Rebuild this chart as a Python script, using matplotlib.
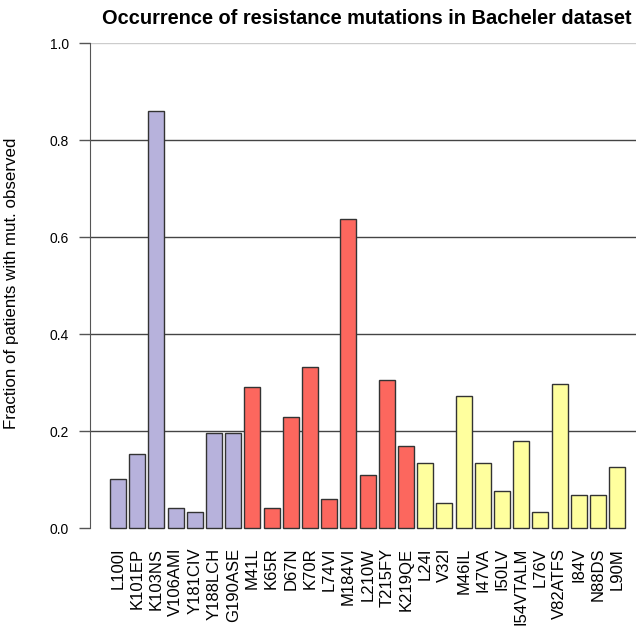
import matplotlib
matplotlib.use("Agg")
import matplotlib.pyplot as plt

plt.rcParams['font.family'] = ['Liberation Sans', 'DejaVu Sans']

# NNRTI / NRTI / PI mutation groups
nnrti_labels = ['L100I', 'K101EP', 'K103NS', 'V106AMI', 'Y181CIV', 'Y188LCH', 'G190ASE']
nnrti_values = [0.102, 0.153, 0.860, 0.042, 0.033, 0.196, 0.196]

nrti_labels = ['M41L', 'K65R', 'D67N', 'K70R', 'L74VI', 'M184VI', 'L210W', 'T215FY', 'K219QE']
nrti_values = [0.290, 0.042, 0.229, 0.332, 0.060, 0.638, 0.110, 0.305, 0.170]

pi_labels = ['L24I', 'V32I', 'M46IL', 'I47VA', 'I50LV', 'I54VTALM', 'L76V',
             'V82ATFS', 'I84V', 'N88DS', 'L90M']
pi_values = [0.135, 0.051, 0.273, 0.135, 0.076, 0.179, 0.033, 0.298, 0.068, 0.068, 0.126]

groups = [(nnrti_labels, nnrti_values, '#B7B2DC'),
          (nrti_labels, nrti_values, '#FC675E'),
          (pi_labels, pi_values, '#FFFF9E')]

fig = plt.figure(figsize=(6.38, 6.29), dpi=100)
ax = fig.add_axes([0.141, 0.1335, 0.856, 0.798])

labels = []
pos = 0
for lab, vals, col in groups:
    xs = list(range(pos, pos + len(vals)))
    ax.bar(xs, vals, width=0.833, color=col, edgecolor='#333333',
           linewidth=1.0, zorder=3)
    labels += lab
    pos += len(vals)

# horizontal reference lines
for y in [0.2, 0.4, 0.6, 0.8]:
    ax.axhline(y, color='#444444', linewidth=1.0, zorder=1)
ax.axhline(1.0, color='#cccccc', linewidth=1.0, zorder=1)

ax.set_xlim(-1.46, 26.98)
ax.set_ylim(-0.035, 1.0)
ax.set_xticks(range(len(labels)))
ax.set_xticklabels(labels, rotation=90, fontsize=12)
ax.tick_params(axis='x', length=0, pad=2)
ax.set_yticks([0.0, 0.2, 0.4, 0.6, 0.8, 1.0])
ax.set_yticklabels(['0.0', '0.2', '0.4', '0.6', '0.8', '1.0'], fontsize=12)
ax.tick_params(axis='y', length=8, width=1.0, color='#555555', pad=7)

for s in ['top', 'right', 'bottom']:
    ax.spines[s].set_visible(False)
ax.spines['left'].set_bounds(0, 1)
ax.spines['left'].set_color('#555555')
ax.spines['left'].set_position(('data', -1.46))

ax.set_ylabel('Fraction of patients with mut. observed', fontsize=12.2)
ax.yaxis.set_label_coords(-0.130, 0.521)
fig.text(0.575, 0.970, 'Occurrence of resistance mutations in Bacheler dataset',
         ha='center', va='center', fontsize=14.4, fontweight='bold')

fig.savefig('out.png', dpi=100)
